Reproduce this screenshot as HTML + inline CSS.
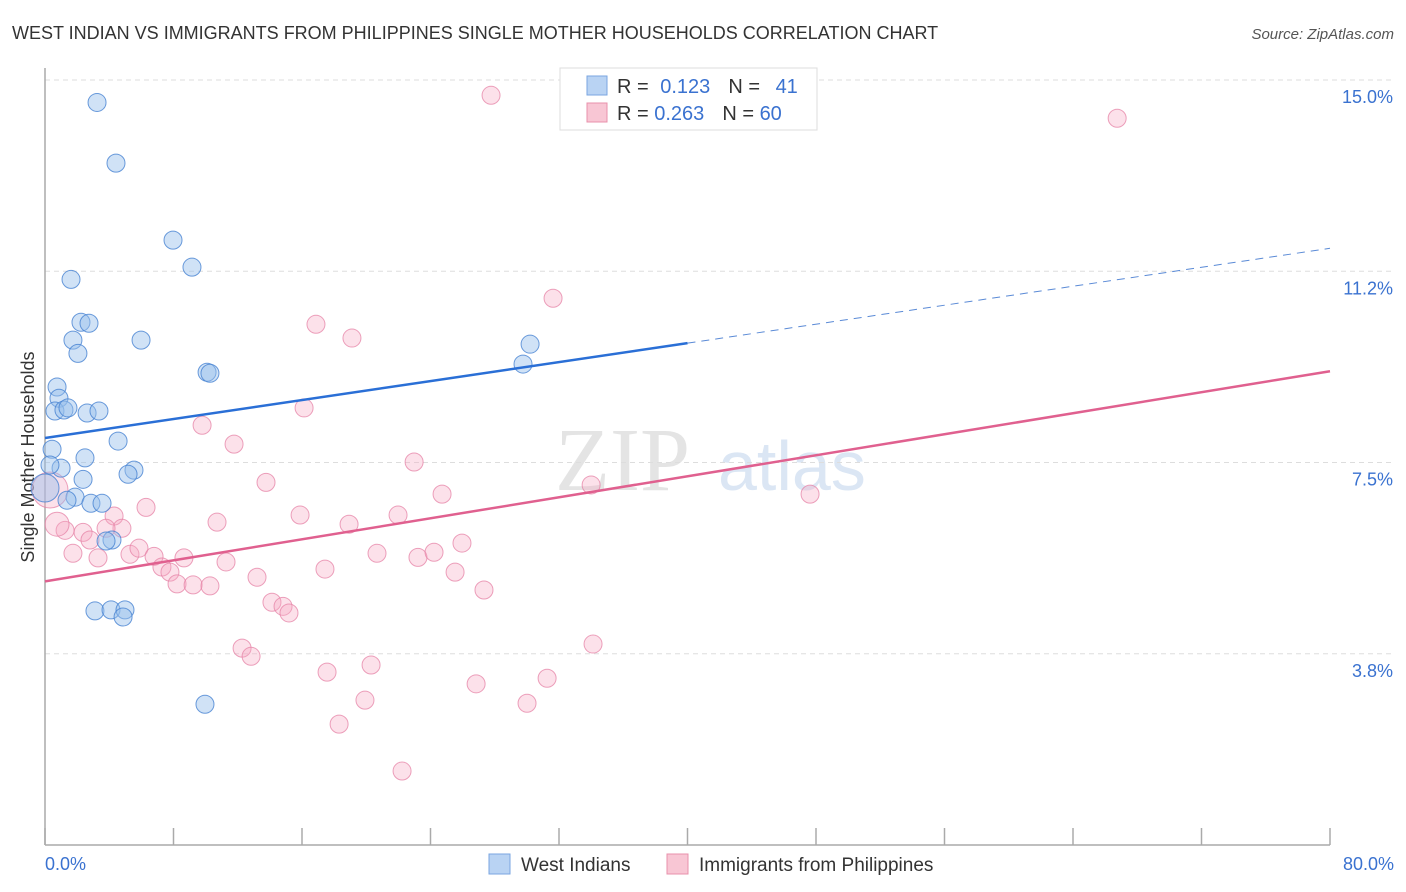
<!DOCTYPE html>
<html><head><meta charset="utf-8">
<style>
body{margin:0;background:#fff;font-family:"Liberation Sans",sans-serif;}
svg{display:block}
</style></head>
<body>
<svg id="chart" width="1406" height="892" xmlns="http://www.w3.org/2000/svg" font-family="Liberation Sans, sans-serif">
<text x="12" y="39" font-size="18" fill="#333">WEST INDIAN VS IMMIGRANTS FROM PHILIPPINES SINGLE MOTHER HOUSEHOLDS CORRELATION CHART</text>
<text x="1394" y="39" font-size="15" fill="#555" text-anchor="end" font-style="italic">Source: ZipAtlas.com</text>
<text x="555" y="490" font-size="90" fill="#e4e4e4" font-family="Liberation Serif, serif">ZIP</text>
<text x="718" y="490" font-size="70" fill="#dbe6f4">atlas</text>
<g id="grid"></g>
<line x1="45" y1="68" x2="45" y2="845" stroke="#aaa" stroke-width="1.5"/>
<line x1="45" y1="845" x2="1330" y2="845" stroke="#aaa" stroke-width="1.5"/>
<g id="xticks"></g>
<text transform="translate(34,457) rotate(-90)" font-size="18" fill="#333" text-anchor="middle">Single Mother Households</text>
<text x="45" y="870" font-size="18" fill="#3a72d0">0.0%</text>
<text x="1394" y="870" font-size="18" fill="#3a72d0" text-anchor="end">80.0%</text>
<g id="pts"></g>
<g id="lines"></g>
<g>
<rect x="560" y="68" width="257" height="62" fill="#fff" stroke="#ddd"/>
<rect x="587" y="76" width="20" height="19" fill="#b9d3f3" stroke="#7aa6e0"/>
<rect x="587" y="103" width="20" height="19" fill="#f8c6d4" stroke="#e890ab"/>
<text x="617" y="93" font-size="20" fill="#333">R = <tspan fill="#3a72d0" dx="6">0.123</tspan><tspan dx="18" fill="#333">N = </tspan><tspan dx="10" fill="#3a72d0">41</tspan></text>
<text x="617" y="120" font-size="20" fill="#333">R = <tspan fill="#3a72d0">0.263</tspan><tspan dx="18" fill="#333">N = </tspan><tspan fill="#3a72d0">60</tspan></text>
</g>
<g>
<rect x="489" y="854" width="21" height="20" fill="#b9d3f3" stroke="#7aa6e0"/>
<text x="521" y="871" font-size="19" fill="#333">West Indians</text>
</g>
<g>
<rect x="667" y="854" width="21" height="20" fill="#f8c6d4" stroke="#e890ab"/>
<text x="699" y="871" font-size="19" fill="#333">Immigrants from Philippines</text>
</g>
</svg>
<script>
const yTicks=[15.0,11.25,7.5,3.75];
const yTickLabels=["15.0%","11.2%","7.5%","3.8%"];
const xTicks=[0,8,16,24,32,40,48,56,64,72,80];
const blueX=[3.24,4.42,7.97,9.15,1.62,2.24,2.74,1.74,5.98,2.05,10.09,10.27,30.2,29.76,0.75,0.87,0.62,1.18,1.43,2.62,3.36,0.44,4.55,1.0,2.49,5.54,5.17,2.37,1.87,1.37,2.86,3.55,4.17,3.8,3.11,4.11,4.98,4.86,9.96,0.31,0];
const blueY=[14.56,13.37,11.86,11.33,11.09,10.25,10.23,9.9,9.9,9.64,9.27,9.25,9.82,9.43,8.98,8.76,8.51,8.53,8.57,8.47,8.51,7.76,7.92,7.39,7.59,7.35,7.27,7.17,6.82,6.76,6.7,6.7,5.98,5.96,4.59,4.61,4.61,4.47,2.76,7.45,7.0];
const blueR=[9,9,9,9,9,9,9,9,9,9,9,9,9,9,9,9,9,9,9,9,9,9,9,9,9,9,9,9,9,9,9,9,9,9,9,9,9,9,9,9,14];
const pinkX=[27.77,66.75,31.63,16.87,19.11,16.13,9.78,11.77,22.98,13.76,24.72,34.0,47.63,6.29,15.88,10.71,21.98,18.93,4.3,4.79,3.8,2.37,2.8,1.25,0.75,1.74,3.3,5.29,5.85,6.79,8.65,7.28,7.78,8.22,9.22,10.27,11.27,13.2,17.43,20.67,23.22,24.22,25.96,25.53,27.33,14.13,14.82,15.19,12.27,12.83,17.56,20.3,19.92,18.31,26.84,31.26,30.01,34.12,22.23,0.31];
const pinkY=[14.7,14.25,10.72,10.21,9.94,8.57,8.23,7.86,7.51,7.11,6.88,7.06,6.88,6.62,6.47,6.33,6.47,6.29,6.45,6.21,6.21,6.13,5.98,6.17,6.29,5.72,5.63,5.7,5.82,5.66,5.63,5.45,5.35,5.12,5.1,5.08,5.55,5.25,5.41,5.72,5.64,5.74,5.92,5.35,5.0,4.76,4.68,4.55,3.86,3.7,3.39,3.53,2.84,2.37,3.16,3.27,2.78,3.94,1.45,6.96];
const pinkR=[9,9,9,9,9,9,9,9,9,9,9,9,9,9,9,9,9,9,9,9,9,9,9,9,12,9,9,9,9,9,9,9,9,9,9,9,9,9,9,9,9,9,9,9,9,9,9,9,9,9,9,9,9,9,9,9,9,9,9,18];
const blueTrend=[7.98,11.7];
const pinkTrend=[5.17,9.29];
const blueSolidEnd=40;
const NS="http://www.w3.org/2000/svg";
const sx=v=>45+v*(1285/80);
const sy=v=>845-v*(765/15);
function mk(tag,attrs,parent){const e=document.createElementNS(NS,tag);for(const k in attrs)e.setAttribute(k,attrs[k]);parent.appendChild(e);return e;}
const grid=document.getElementById('grid');
yTicks.forEach((t,i)=>{
  const l=mk('line',{x1:45,x2:1394,y1:sy(t),y2:sy(t),stroke:'#ddd','stroke-dasharray':'5,4'},grid);
  
  
  const tx=mk('text',{x:1393,y:sy(t)+23,'font-size':18,fill:'#3a72d0','text-anchor':'end'},grid);
  tx.textContent=yTickLabels[i];
  
  
});
const xt=document.getElementById('xticks');
xTicks.forEach(t=>{
  const l=mk('line',{x1:sx(t),x2:sx(t),y1:828,y2:845,stroke:'#aaa','stroke-width':1.5},xt);
  
  
});
const pts=document.getElementById('pts');
pinkX.forEach((x,i)=>{
  const c=mk('circle',{cx:sx(x),cy:sy(pinkY[i]),r:pinkR[i],fill:'rgba(246,170,195,0.35)',stroke:'rgba(230,130,165,0.75)','stroke-width':1},pts);
  
  
});
blueX.forEach((x,i)=>{
  const c=mk('circle',{cx:sx(x),cy:sy(blueY[i]),r:blueR[i],fill:'rgba(150,190,235,0.45)',stroke:'rgba(70,130,210,0.8)','stroke-width':1},pts);
  
  
});
const lines=document.getElementById('lines');
const bAt=x=>blueTrend[0]+(blueTrend[1]-blueTrend[0])*x/80;
const l1=mk('line',{x1:sx(0),y1:sy(bAt(0)),x2:sx(blueSolidEnd),y2:sy(bAt(blueSolidEnd)),stroke:'#2a6fd6','stroke-width':2.5},lines);


const l2=mk('line',{x1:sx(blueSolidEnd),y1:sy(bAt(blueSolidEnd)),x2:sx(80),y2:sy(bAt(80)),stroke:'#5a8ad6','stroke-width':1,'stroke-dasharray':'8,6'},lines);


const l3=mk('line',{x1:sx(0),y1:sy(pinkTrend[0]),x2:sx(80),y2:sy(pinkTrend[1]),stroke:'#e0608f','stroke-width':2.5},lines);


</script>
</body></html>
